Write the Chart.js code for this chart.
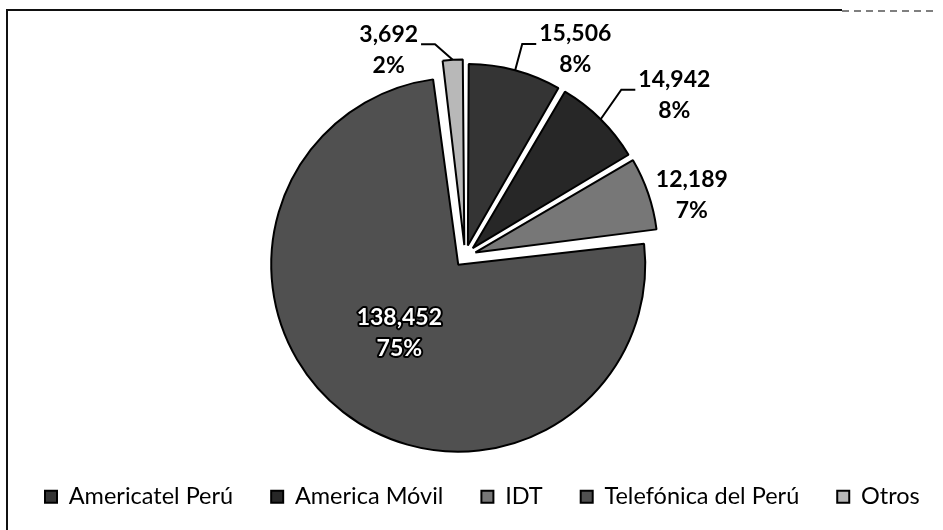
<!DOCTYPE html>
<html>
<head>
<meta charset="utf-8">
<script src="https://cdn.jsdelivr.net/npm/chart.js@4.4.1/dist/chart.umd.min.js"></script>
<style>
  html, body { margin: 0; padding: 0; background: #ffffff; }
  canvas { display: block; }
</style>
</head>
<body>
<canvas id="chart" width="943" height="530"></canvas>
<script>
// ---- data ----
const categories = ['Americatel Perú', 'America Móvil', 'IDT', 'Telefónica del Perú', 'Otros'];
const values = [15506, 14942, 12189, 138452, 3692];

// ---- styles / layout (not data) ----
const sliceColors = ['#343434', '#272727', '#777777', '#505050', '#b8b8b8'];
const PIE = { cx: 465, cy: 256, radius: 176, offset: 44, half: 215 };
const LABEL_FONT = 'bold 23px Lato';
const LINE_GAP = 31;
// label placement: distance factor of radius, angle shift (deg, clockwise) from slice middle
const labelPlacement = [
  { f: 1.33,  d: 13,    leader: 'left'  },
  { f: 1.50,  d: 7.7,   leader: 'left'  },
  { f: 1.335, d: 3.7,   leader: null    },
  { f: 0.574, d: 2.6,   leader: null, inside: true },
  { f: 1.25,  d: -16.7, leader: 'right' }
];

const framePlugin = {
  id: 'frame',
  beforeDraw(chart) {
    const ctx = chart.ctx;
    ctx.save();
    ctx.strokeStyle = '#111';
    ctx.lineWidth = 2;
    ctx.beginPath();
    ctx.moveTo(7, 530);
    ctx.lineTo(7, 10);
    ctx.lineTo(842, 10);
    ctx.stroke();
    ctx.strokeStyle = '#555';
    ctx.lineWidth = 1.5;
    ctx.setLineDash([7, 5]);
    ctx.beginPath();
    ctx.moveTo(842, 11);
    ctx.lineTo(935, 11);
    ctx.stroke();
    ctx.restore();
  }
};

const pieAreaPlugin = {
  id: 'pieArea',
  afterLayout(chart) {
    const a = chart.chartArea;
    a.left = PIE.cx - PIE.half;
    a.right = PIE.cx + PIE.half;
    a.top = PIE.cy - PIE.half;
    a.bottom = PIE.cy + PIE.half;
    a.width = 2 * PIE.half;
    a.height = 2 * PIE.half;
  }
};

const labelPlugin = {
  id: 'sliceLabels',
  afterDatasetsDraw(chart) {
    const ctx = chart.ctx;
    const meta = chart.getDatasetMeta(0);
    const data = chart.data.datasets[0].data;
    const total = data.reduce((s, v) => s + v, 0);
    ctx.save();
    ctx.font = LABEL_FONT;
    ctx.textAlign = 'center';
    ctx.textBaseline = 'middle';
    meta.data.forEach((arc, i) => {
      const p = arc.getProps(['x', 'y', 'startAngle', 'endAngle', 'outerRadius']);
      const mid = (p.startAngle + p.endAngle) / 2;
      const place = labelPlacement[i];
      const ang = mid + place.d * Math.PI / 180;
      const dist = p.outerRadius * place.f;
      const bx = p.x + Math.cos(ang) * dist;
      const by = p.y + Math.sin(ang) * dist;
      const valueText = data[i].toLocaleString('en-US');
      const pctText = Math.round(data[i] / total * 100) + '%';
      const y1 = by - LINE_GAP / 2;
      const y2 = by + LINE_GAP / 2;
      if (place.inside) {
        ctx.lineJoin = 'round';
        ctx.lineWidth = 4;
        ctx.strokeStyle = '#000';
        ctx.strokeText(valueText, bx, y1);
        ctx.strokeText(pctText, bx, y2);
        ctx.fillStyle = '#fff';
        ctx.fillText(valueText, bx, y1);
        ctx.fillText(pctText, bx, y2);
      } else {
        ctx.fillStyle = '#000';
        ctx.fillText(valueText, bx, y1);
        ctx.fillText(pctText, bx, y2);
      }
      if (place.leader) {
        const off = (arc.options.offset || 0) / 4;
        const circ = p.endAngle - p.startAngle;
        const fix = 1 - Math.sin(Math.min(Math.PI, circ));
        const r = p.outerRadius + off * fix;
        const ex = p.x + Math.cos(mid) * (off + r);
        const ey = p.y + Math.sin(mid) * (off + r);
        const w = ctx.measureText(valueText).width;
        let sx, hx;
        if (place.leader === 'left') { sx = bx - w / 2 - 3; hx = sx - 14; }
        else { sx = bx + w / 2 + 3; hx = sx + 14; }
        const sy = y1 + 10;
        ctx.strokeStyle = '#000';
        ctx.lineWidth = 2;
        ctx.beginPath();
        ctx.moveTo(sx, sy);
        ctx.lineTo(hx, sy);
        ctx.lineTo(ex, ey);
        ctx.stroke();
      }
    });
    ctx.restore();
  }
};

new Chart(document.getElementById('chart'), {
  type: 'pie',
  data: {
    labels: categories,
    datasets: [{
      data: values,
      backgroundColor: sliceColors,
      borderColor: '#000',
      borderWidth: 2,
      offset: PIE.offset,
      hoverOffset: 0,
      radius: PIE.radius,
      clip: false
    }]
  },
  options: {
    responsive: false,
    animation: false,
    events: [],
    layout: { padding: { left: 7, right: -60, top: 0, bottom: 23 } },
    plugins: {
      legend: {
        position: 'bottom',
        align: 'start',
        maxHeight: 60,
        labels: {
          boxWidth: 12,
          boxHeight: 12,
          padding: 38,
          color: '#000',
          font: { family: 'Lato', size: 23.5 }
        }
      },
      tooltip: { enabled: false }
    }
  },
  plugins: [framePlugin, pieAreaPlugin, labelPlugin]
});
</script>
</body>
</html>
